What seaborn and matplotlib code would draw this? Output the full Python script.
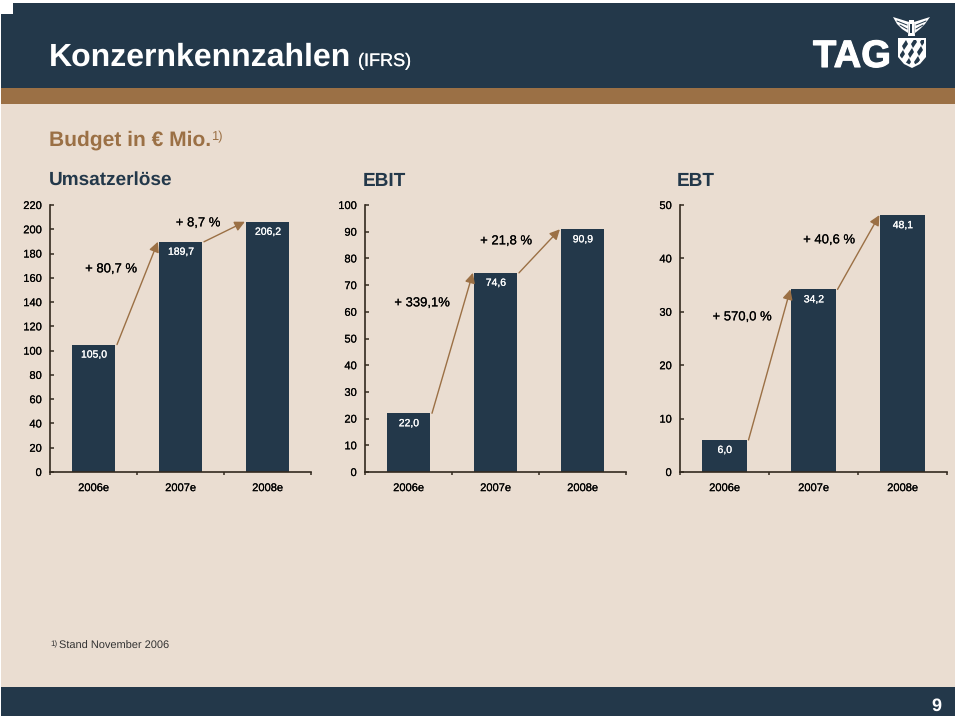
import matplotlib
matplotlib.use('Agg')
import matplotlib.pyplot as plt
import matplotlib.patheffects as pe
from matplotlib.patches import Rectangle, Polygon
import seaborn as sns

years = ['2006e', '2007e', '2008e']

umsatz_values = [105.0, 189.7, 206.2]
ebit_values = [22.0, 74.6, 90.9]
ebt_values = [6.0, 34.2, 48.1]

umsatz_ticks = [0, 20, 40, 60, 80, 100, 120, 140, 160, 180, 200, 220]
ebit_ticks = [0, 10, 20, 30, 40, 50, 60, 70, 80, 90, 100]
ebt_ticks = [0, 10, 20, 30, 40, 50]

umsatz_growth = ['+ 80,7 %', '+ 8,7 %']
ebit_growth = ['+ 339,1%', '+ 21,8 %']
ebt_growth = ['+ 570,0 %', '+ 40,6 %']

DARK = '#23384a'
BROWN = '#9b7045'
BEIGE = '#eaddd1'
AXIS = '#33291f'

sns.set_theme(style='white')
plt.rcParams['font.family'] = ['Liberation Sans', 'DejaVu Sans']
plt.rcParams['text.hinting'] = 'none'
plt.rcParams['text.hinting_factor'] = 1

# the source is a soft scan, regular text reads a little heavier there
heavy = [pe.withStroke(linewidth=0.12, foreground='black')]
heavy_white = [pe.withStroke(linewidth=0.15, foreground='white')]

W, H = 960, 720
fig = plt.figure(figsize=(W / 100, H / 100), dpi=100, facecolor='white')

# page background, in pixel coordinates
bg = fig.add_axes([0, 0, 1, 1])
bg.set_xlim(0, W)
bg.set_ylim(H, 0)
bg.axis('off')
bg.add_patch(Rectangle((1, 3), 954, 713, color=BEIGE, lw=0))
bg.add_patch(Rectangle((1, 3), 954, 85, color=DARK, lw=0))
bg.add_patch(Rectangle((1, 88), 954, 16, color=BROWN, lw=0))
bg.add_patch(Rectangle((1, 687), 954, 29, color=DARK, lw=0))
bg.add_patch(Rectangle((0, 0), 13, 14, color='white', lw=0))

bg.text(49, 66, 'Konzernkennzahlen', color='white', fontsize=23, fontweight='bold')
bg.text(358, 66, '(IFRS)', color='white', fontsize=13, path_effects=heavy_white)
bg.text(49, 146, 'Budget in € Mio.', color=BROWN, fontsize=15, fontweight='bold')
bg.text(211, 140, '1)', color=BROWN, fontsize=9.5)
bg.text(49, 185, 'Umsatzerlöse', color=DARK, fontsize=13.7, fontweight='bold')
bg.text(363, 186, 'EBIT', color=DARK, fontsize=13.7, fontweight='bold')
bg.text(677, 186, 'EBT', color=DARK, fontsize=13.7, fontweight='bold')
bg.text(50, 646, '1)', color='#333333', fontsize=5.5)
bg.text(59, 649, 'Stand November 2006', color='#333333', fontsize=7.7)
bg.text(936, 706, '9', color='white', fontsize=13, fontweight='bold', ha='center', va='center')

# logo
bg.text(813, 67, 'TAG', color='white', fontsize=27.5, fontweight='bold',
        path_effects=[pe.withStroke(linewidth=0.8, foreground='white')])
shield = Polygon([(898, 38), (926, 38), (926, 57), (920, 64), (912, 68), (904, 64), (898, 57)],
                 color='white', lw=0)
bg.add_patch(shield)
inner = Polygon([(900, 40), (924, 40), (924, 56), (919, 62), (912, 66), (905, 62), (900, 56)],
                transform=bg.transData, fill=False, lw=0)
bg.add_patch(inner)
for cx, cy in [(905, 45), (914, 43), (923, 41), (902, 55), (911, 53), (920, 51), (908, 63), (917, 61)]:
    lozenge = Polygon([(cx + 1, cy - 5), (cx + 3, cy - 1), (cx - 1, cy + 5), (cx - 3, cy + 1)],
                      color=DARK, lw=0)
    bg.add_patch(lozenge)
    lozenge.set_clip_path(inner)
bg.add_patch(Polygon([(893, 17), (909, 22), (908, 33), (902, 29), (897, 24)], color='white', lw=0))
bg.add_patch(Polygon([(930, 17), (914, 22), (915, 33), (920, 29), (925, 24)], color='white', lw=0))
bg.add_patch(Polygon([(909, 20), (914, 20), (915, 36), (908, 36)], color='white', lw=0))
bg.add_patch(Polygon([(910, 24), (912, 24), (912, 33), (910, 33)], color=DARK, lw=0))
for xs, ys in [((897, 907), (21, 25)), ((900, 907), (25, 29)), ((926, 916), (21, 25)), ((923, 916), (25, 29))]:
    bg.plot(xs, ys, color=DARK, lw=0.7)
bg.set_xlim(0, W)
bg.set_ylim(H, 0)


def draw_chart(x0, x1, values, ticks, growth, growth_pos):
    y0, y1 = 472, 205
    ax = fig.add_axes([x0 / W, 1 - y0 / H, (x1 - x0) / W, (y0 - y1) / H])
    ax.patch.set_alpha(0)
    sns.barplot(x=years, y=values, color=DARK, saturation=1, width=0.5, linewidth=0, ax=ax)
    ax.set_xlim(-0.5, 2.5)
    ax.set_ylim(ticks[0], ticks[-1])
    ax.set_yticks(ticks)
    ax.set_xticks([-0.5, 0.5, 1.5, 2.5], minor=True)
    ax.tick_params(axis='y', which='major', direction='in', left=True, length=3, width=1.1,
                   color=AXIS, labelsize=8, labelcolor='black', pad=6)
    ax.tick_params(axis='x', which='major', length=0, labelsize=8, labelcolor='black', pad=8)
    ax.tick_params(axis='x', which='minor', direction='out', bottom=True, length=2.5, width=1.1,
                   color=AXIS)
    for lab in ax.get_xticklabels() + ax.get_yticklabels():
        lab.set_path_effects(heavy)
    sns.despine(ax=ax)
    for side in ['left', 'bottom']:
        ax.spines[side].set_color(AXIS)
        ax.spines[side].set_linewidth(1.2)

    for i, v in enumerate(values):
        ax.annotate(f'{v:.1f}'.replace('.', ','), (i, v), xytext=(0, -7.5), textcoords='offset points',
                    ha='center', va='center', color='white', fontsize=7.5, path_effects=heavy_white)
    for i in range(2):
        ax.annotate('', xy=(i + 0.74, values[i + 1]), xytext=(i + 0.27, values[i]),
                    arrowprops=dict(arrowstyle='-|>', color=BROWN, lw=1, shrinkA=0, shrinkB=0,
                                    mutation_scale=15))
    for label, (px, py) in zip(growth, growth_pos):
        bg.text(px, py, label, color='black', fontsize=9.4, ha='center', va='center', path_effects=heavy)


draw_chart(50, 311, umsatz_values, umsatz_ticks, umsatz_growth, [(111, 269), (198, 223)])
draw_chart(365, 626, ebit_values, ebit_ticks, ebit_growth, [(422, 303), (506, 241)])
draw_chart(680, 947, ebt_values, ebt_ticks, ebt_growth, [(742, 317), (829, 240)])

fig.savefig('out.png', dpi=100)
